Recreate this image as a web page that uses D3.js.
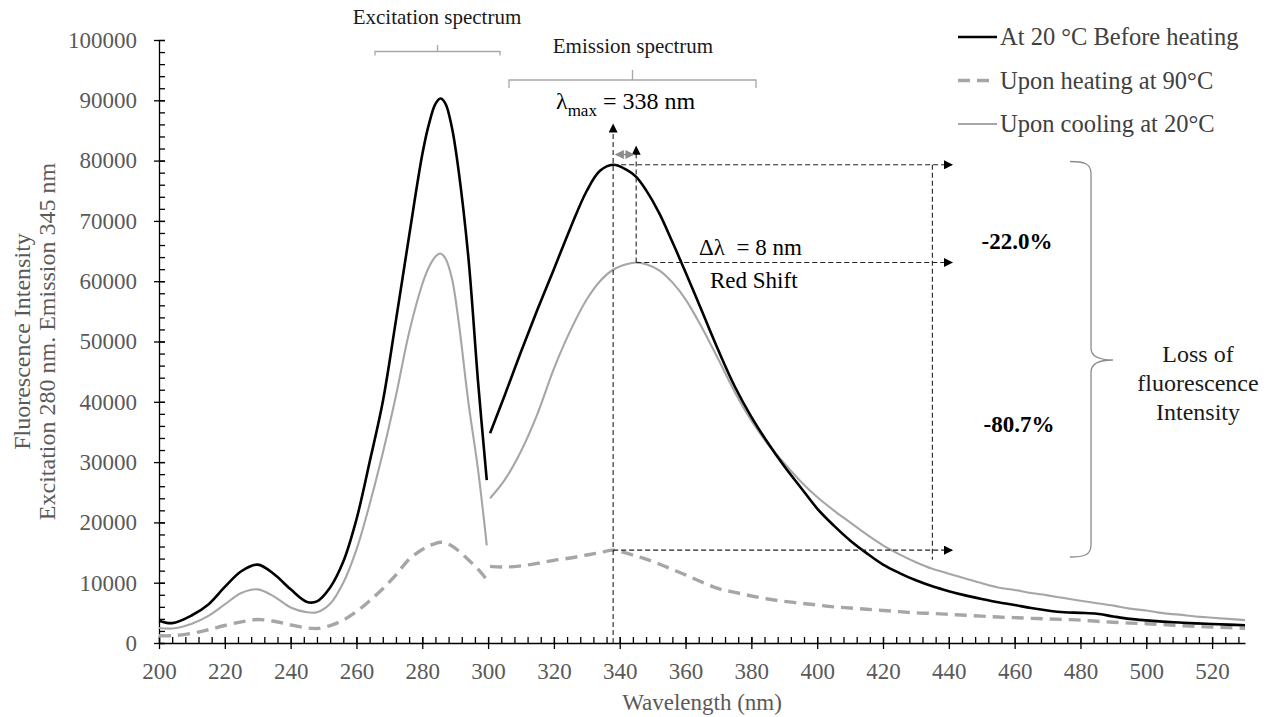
<!DOCTYPE html>
<html>
<head>
<meta charset="utf-8">
<script src="https://cdn.jsdelivr.net/npm/d3@7"></script>
<style>
  body { margin: 0; background: #fff; }
  svg, svg text { font-family: "Liberation Serif", "Times New Roman", serif; }
</style>
</head>
<body>
<div id="chart"></div>
<script>
// wavelengths (nm) for the excitation and emission scans
const exWl = [200, 204, 210, 215, 220, 225, 230, 235, 240, 245, 248, 252, 256, 260, 264, 268, 272, 276, 280, 282, 284, 285.5, 287, 289, 291, 294, 297, 299.6];
const emWl = [300.6, 305, 310, 315, 320, 325, 330, 334, 338, 342, 345, 348, 352, 356, 360, 365, 370, 375, 380, 385, 390, 395, 400, 405, 410, 415, 420, 425, 430, 435, 440, 445, 450, 455, 460, 465, 470, 475, 480, 485, 490, 495, 500, 505, 510, 515, 520, 525, 530];

// At 20 °C before heating
const exBefore = [3700, 3300, 4600, 6400, 9300, 11900, 13000, 11400, 8900, 6800, 6900, 9200, 13500, 20500, 30000, 40000, 53500, 67500, 81000, 86000, 89400, 90300, 89500, 85500, 78500, 64000, 43000, 27000];
const emBefore = [34800, 41000, 48300, 55300, 62000, 68800, 75000, 78300, 79300, 78500, 77300, 75100, 71300, 66500, 61500, 55000, 48500, 42500, 37500, 33200, 29300, 25800, 22300, 19500, 17000, 14900, 13000, 11600, 10400, 9400, 8600, 7900, 7300, 6750, 6300, 5800, 5400, 5100, 5000, 4850, 4400, 4000, 3750, 3550, 3400, 3250, 3150, 3050, 2950];

// upon heating at 90 °C
const exHeat = [1200, 1200, 1600, 2200, 2900, 3500, 3900, 3600, 3000, 2500, 2400, 2900, 3800, 5200, 7000, 9000, 11300, 13900, 15500, 16100, 16500, 16700, 16600, 16100, 15300, 13800, 12200, 10500];
const emHeat = [12700, 12600, 12800, 13200, 13700, 14100, 14600, 15000, 15400, 14900, 14400, 13900, 13100, 12200, 11300, 10100, 9000, 8400, 7800, 7300, 6900, 6600, 6300, 6000, 5800, 5600, 5400, 5200, 5000, 4900, 4750, 4600, 4450, 4300, 4200, 4100, 4000, 3900, 3800, 3600, 3450, 3300, 3200, 3050, 2900, 2750, 2650, 2550, 2450];

// upon cooling at 20 °C
const exCool = [2500, 2400, 3200, 4500, 6400, 8300, 8900, 7700, 5900, 5100, 5100, 6500, 10000, 15500, 23000, 31500, 41000, 51500, 59500, 62300, 64100, 64600, 63800, 60500, 53500, 40000, 28500, 16200];
const emCool = [24000, 27000, 31800, 38000, 45500, 51800, 57000, 60000, 61900, 62800, 63100, 62800, 61800, 59800, 57000, 52300, 47000, 41600, 36900, 33000, 29800, 26800, 24200, 22000, 20000, 18000, 16200, 14700, 13400, 12300, 11500, 10700, 9900, 9200, 8800, 8300, 7900, 7450, 7000, 6600, 6200, 5700, 5400, 4950, 4700, 4400, 4200, 4000, 3800];

const seriesNames = ["At 20 °C Before heating", "Upon heating at 90°C", "Upon cooling at 20°C"];
const xTicks = d3.range(200, 521, 20);
const yTicks = d3.range(0, 100001, 10000);

const width = 1264, height = 717;
const margins = { top: 40, right: 19, bottom: 74, left: 159 };

const x = d3.scaleLinear().domain([200, 530]).range([margins.left, width - margins.right]);
const y = d3.scaleLinear().domain([0, 100000]).range([height - margins.bottom, margins.top]);

const svg = d3.select("#chart").append("svg")
    .attr("width", width)
    .attr("height", height);

// arrow heads
const defs = svg.append("defs");
function arrowMarker(id, colour) {
    defs.append("marker")
        .attr("id", id)
        .attr("viewBox", "0 0 10 10")
        .attr("refX", 9).attr("refY", 5)
        .attr("markerWidth", 10).attr("markerHeight", 9)
        .attr("markerUnits", "userSpaceOnUse")
        .attr("orient", "auto-start-reverse")
        .append("path")
        .attr("d", "M0,0 L10,5 L0,10 Z")
        .attr("fill", colour);
}
arrowMarker("arrBlack", "#000");
arrowMarker("arrGrey", "#8c8c8c");

const tickGrey = "#595959";
const serif = "'Liberation Serif', 'Times New Roman', serif";

//---- y axis ----
svg.append("g")
    .attr("transform", `translate(${x(200)},0)`)
    .call(d3.axisRight(y).tickValues(d3.range(0, 100001, 2000)).tickSize(6).tickFormat(""))
    .call(g => g.select(".domain").remove());

const yAxis = svg.append("g")
    .attr("transform", `translate(${x(200)},0)`)
    .call(d3.axisLeft(y).tickValues(yTicks).tickFormat(d3.format("d")).tickSizeInner(5).tickSizeOuter(0).tickPadding(17));
yAxis.attr("font-family", serif);
yAxis.selectAll(".tick text")
    .style("font-size", "23px")
    .style("fill", tickGrey);

//---- x axis ----
svg.append("g")
    .attr("transform", `translate(0,${y(0)})`)
    .call(d3.axisTop(x).tickValues(d3.range(200, 531, 4)).tickSize(6).tickFormat(""))
    .call(g => g.select(".domain").remove());

const xAxis = svg.append("g")
    .attr("transform", `translate(0,${y(0)})`)
    .call(d3.axisBottom(x).tickValues(xTicks).tickFormat(d3.format("d")).tickSizeInner(6).tickSizeOuter(0).tickPadding(14));
xAxis.attr("font-family", serif);
xAxis.selectAll(".tick text")
    .style("font-size", "23px")
    .style("fill", tickGrey);
// major ticks cross the axis
xAxis.selectAll(".tick line").attr("y1", -6);
yAxis.selectAll(".tick line").attr("x1", 6);

svg.selectAll(".domain, .tick line").attr("stroke", "#000").attr("stroke-width", 1.3);

// axis titles
svg.append("text")
    .attr("text-anchor", "middle")
    .attr("x", (x(200) + x(530)) / 2)
    .attr("y", 710)
    .style("font-size", "23px")
    .style("fill", tickGrey)
    .text("Wavelength (nm)");

const yTitle = svg.append("text")
    .attr("text-anchor", "middle")
    .attr("transform", `translate(0,${(y(0) + y(100000)) / 2}) rotate(-90)`)
    .style("font-size", "24px")
    .style("fill", tickGrey);
yTitle.append("tspan").attr("x", 0).attr("y", 30).text("Fluorescence Intensity");
yTitle.append("tspan").attr("x", 0).attr("y", 55).text("Excitation 280 nm. Emission 345 nm");

//---- spectra ----
const lineGen = wl => d3.line()
    .x((d, i) => x(wl[i]))
    .y(d => y(d))
    .curve(d3.curveCatmullRom.alpha(0.5));

const styles = [
    { stroke: "#000", width: 2.6, dash: null },
    { stroke: "#a6a6a6", width: 3.4, dash: "12,7" },
    { stroke: "#a6a6a6", width: 2.1, dash: null }
];
const spectra = [
    [exBefore, emBefore],
    [exHeat, emHeat],
    [exCool, emCool]
];

const plot = svg.append("g");
[2, 1, 0].forEach(k => {
    const [ex, em] = spectra[k];
    [[ex, exWl], [em, emWl]].forEach(([vals, wl]) => {
        plot.append("path")
            .datum(vals)
            .attr("d", lineGen(wl))
            .attr("fill", "none")
            .attr("stroke", styles[k].stroke)
            .attr("stroke-width", styles[k].width)
            .attr("stroke-dasharray", styles[k].dash);
    });
});

//---- legend ----
const legend = svg.append("g").attr("transform", "translate(958,37)");
const legendRows = legend.selectAll("g")
    .data(seriesNames)
    .enter()
    .append("g")
    .attr("transform", (d, i) => `translate(0,${i * 43.5})`);
legendRows.append("line")
    .attr("x1", 0).attr("x2", (d, i) => i === 1 ? 33 : 39)
    .attr("y1", 0).attr("y2", 0)
    .attr("stroke", (d, i) => styles[i].stroke)
    .attr("stroke-width", (d, i) => styles[i].width)
    .attr("stroke-dasharray", (d, i) => styles[i].dash);
legendRows.append("text")
    .attr("x", 42)
    .attr("y", 8)
    .style("font-size", "24.5px")
    .style("fill", "#404040")
    .text(d => d);

//---- annotations ----
const ann = svg.append("g");
const dashed = { stroke: "#222", "stroke-width": 1.1, "stroke-dasharray": "5,3" };
function dline(x1, y1, x2, y2, arrow) {
    const l = ann.append("line")
        .attr("x1", x1).attr("y1", y1).attr("x2", x2).attr("y2", y2);
    Object.entries(dashed).forEach(([k, v]) => l.attr(k, v));
    if (arrow) l.attr("marker-end", "url(#arrBlack)");
    return l;
}

const peakBefore = d3.max(emBefore), peakCool = d3.max(emCool), peakHeat = d3.max(emHeat);
const arrowEnd = x(441);

// lambda max line
dline(x(338), y(0), x(338), y(86000), true);
// red-shift line at 345 nm
dline(x(345), y(peakCool), x(345), y(82300), true);
// horizontal peak lines
dline(x(338), y(peakBefore), arrowEnd, y(peakBefore), true);
dline(x(345), y(peakCool), arrowEnd, y(peakCool), true);
dline(x(338), y(peakHeat), arrowEnd, y(peakHeat), true);
// vertical connector
dline(x(435), y(peakBefore), x(435), y(13800), false);

// grey double arrow showing the shift
ann.append("line")
    .attr("x1", x(338.8)).attr("x2", x(344.2))
    .attr("y1", y(81000)).attr("y2", y(81000))
    .attr("stroke", "#8c8c8c").attr("stroke-width", 1.5)
    .attr("marker-start", "url(#arrGrey)")
    .attr("marker-end", "url(#arrGrey)");

// spectrum brackets
const bracketGrey = "#a6a6a6";
function bracket(x1, x2, yb, midTop, endDrop) {
    const xm = (x1 + x2) / 2;
    ann.append("path")
        .attr("d", `M${x1},${yb + endDrop} L${x1},${yb} L${x2},${yb} L${x2},${yb + endDrop} M${xm},${yb} L${xm},${midTop}`)
        .attr("fill", "none")
        .attr("stroke", bracketGrey)
        .attr("stroke-width", 1.3);
}
bracket(375, 500, 51.5, 45, 4);
bracket(509, 756, 80, 70, 8);

ann.append("text")
    .attr("x", 437).attr("y", 24)
    .attr("text-anchor", "middle")
    .style("font-size", "21px")
    .style("fill", "#1a1a1a")
    .text("Excitation spectrum");
ann.append("text")
    .attr("x", 633).attr("y", 53)
    .attr("text-anchor", "middle")
    .style("font-size", "21px")
    .style("fill", "#1a1a1a")
    .text("Emission spectrum");

const lam = ann.append("text")
    .attr("x", 556).attr("y", 109)
    .style("font-size", "24px")
    .style("fill", "#000");
lam.append("tspan").text("λ");
lam.append("tspan").attr("dy", 7).style("font-size", "17px").text("max");
lam.append("tspan").attr("dy", -7).text(" = 338 nm");

ann.append("text")
    .attr("x", 699).attr("y", 255)
    .style("font-size", "23px")
    .style("white-space", "pre")
    .style("fill", "#000")
    .text("Δλ  = 8 nm");
ann.append("text")
    .attr("x", 710).attr("y", 288)
    .style("font-size", "23px")
    .style("fill", "#000")
    .text("Red Shift");

ann.append("text")
    .attr("x", 1017).attr("y", 249)
    .attr("text-anchor", "middle")
    .style("font-size", "23px")
    .style("font-weight", "bold")
    .text("-22.0%");
ann.append("text")
    .attr("x", 1019).attr("y", 432)
    .attr("text-anchor", "middle")
    .style("font-size", "23px")
    .style("font-weight", "bold")
    .text("-80.7%");

// curly brace
const bTop = 161.5, bBot = 557, bMid = 360;
ann.append("path")
    .attr("d", `M1070,${bTop} C1084,${bTop} 1091,${bTop + 2} 1091,${bTop + 12}
                L1091,${bMid - 12} C1091,${bMid - 3} 1100,${bMid} 1113,${bMid}
                C1100,${bMid} 1091,${bMid + 3} 1091,${bMid + 12}
                L1091,${bBot - 12} C1091,${bBot - 2} 1084,${bBot} 1070,${bBot}`)
    .attr("fill", "none")
    .attr("stroke", "#8c8c8c")
    .attr("stroke-width", 1.3);

const loss = ann.append("text")
    .attr("text-anchor", "middle")
    .style("font-size", "24px")
    .style("fill", "#1a1a1a");
["Loss of", "fluorescence", "Intensity"].forEach((t, i) => {
    loss.append("tspan").attr("x", 1198).attr("y", 362 + i * 29).text(t);
});
</script>
</body>
</html>
